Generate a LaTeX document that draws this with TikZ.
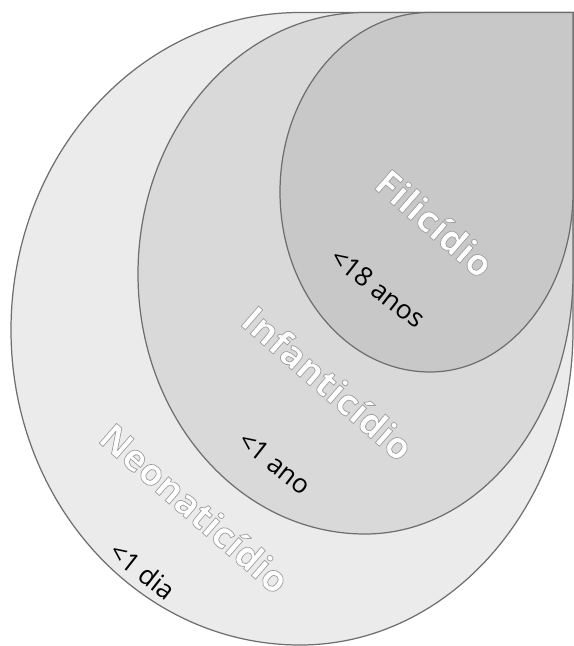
\documentclass[tikz,border=0pt]{standalone}
\usepackage{fontspec}
\setmainfont{Open Sans}
\usepackage{xcolor}
\usepackage{tikz}
\usetikzlibrary{positioning}
\definecolor{outerfill}{HTML}{EBEBEB}
\definecolor{midfill}{HTML}{D9D9D9}
\definecolor{innerfill}{HTML}{C8C8C8}
\definecolor{ringline}{HTML}{6E6E6E}
\newcommand{\edged}[1]{\special{pdf:code 2 Tr 0.4 w 0.62 G}#1\special{pdf:code 0 Tr}}

\begin{document}
\begin{tikzpicture}[
x=0.02cm, y=0.02cm,
ring/.style={draw=ringline, line width=0.7pt},
title/.style={text=white, font=\fontsize{21}{21}\selectfont\bfseries, rotate=-41, inner sep=0pt},
age/.style={font=\fontsize{15}{15}\selectfont, rotate=-38, inner sep=0pt}
]
\useasboundingbox (0,0) rectangle (574,-646);
% outer ring
\draw[ring, fill=outerfill] (300,-12.5)
  arc[start angle=90, end angle=180, x radius=289, y radius=317.5]
  arc[start angle=180, end angle=270, x radius=289, y radius=315]
  arc[start angle=270, end angle=360, x radius=273, y radius=315]
  -- (573,-12.5) -- cycle;
% middle ring
\draw[ring, fill=midfill] (365,-12.5)
  arc[start angle=90, end angle=180, x radius=227, y radius=261.5]
  arc[start angle=180, end angle=270, x radius=227, y radius=260]
  arc[start angle=270, end angle=360, x radius=208, y radius=260]
  -- (573,-12.5) -- cycle;
% inner ring
\draw[ring, fill=innerfill] (430,-12.5)
  arc[start angle=90, end angle=180, x radius=150, y radius=179.5]
  arc[start angle=180, end angle=270, x radius=150, y radius=180]
  arc[start angle=270, end angle=360, x radius=143, y radius=180]
  -- (573,-12.5) -- cycle;

\node[title] (fili) at (435,-223) {\edged{Filicídio}};
\node[title] (infa) at (328,-383) {\edged{Infanticídio}};
\node[title] (neo) at (195,-508) {\edged{Neonaticídio}};

\node[age] (anos) at (378,-288) {<18 anos};
\node[age] (ano) at (275,-463) {<1 ano};
\node[age] (dia) at (143,-571) {<1 dia};
\end{tikzpicture}
\end{document}
